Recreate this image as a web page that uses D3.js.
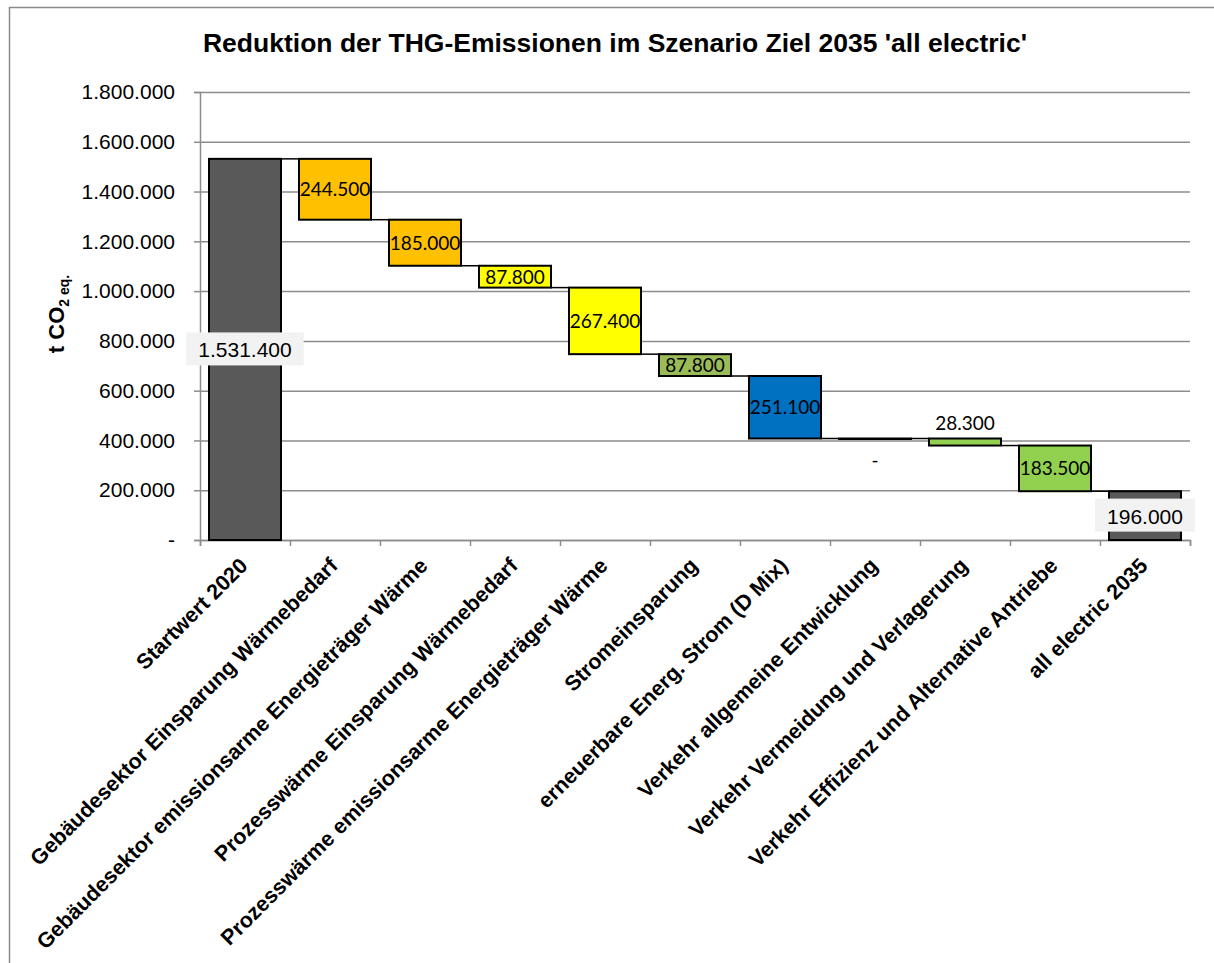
<!DOCTYPE html>
<html>
<head>
<meta charset="utf-8">
<script src="https://cdn.jsdelivr.net/npm/d3@7"></script>
<style>
  body { margin: 0; background: #fff; }
  svg { display: block; }
</style>
</head>
<body>
<svg id="chart" width="1214" height="963"></svg>
<script>
// data
const categories = [
  'Startwert 2020',
  'Gebäudesektor Einsparung Wärmebedarf',
  'Gebäudesektor emissionsarme Energieträger Wärme',
  'Prozesswärme Einsparung Wärmebedarf',
  'Prozesswärme emissionsarme Energieträger Wärme',
  'Stromeinsparung',
  'erneuerbare Energ. Strom (D Mix)',
  'Verkehr allgemeine Entwicklung',
  'Verkehr Vermeidung und Verlagerung',
  'Verkehr Effizienz und Alternative Antriebe',
  'all electric 2035'
];
// first and last are totals, the rest are reductions
const values = [1531400, 244500, 185000, 87800, 267400, 87800, 251100, 0, 28300, 183500, 196000];
const isTotal = [true, false, false, false, false, false, false, false, false, false, true];
const yTicks = [0, 200000, 400000, 600000, 800000, 1000000, 1200000, 1400000, 1600000, 1800000];
const barColors = ['#595959', '#FFC000', '#FFC000', '#FFFF00', '#FFFF00', '#9BBB59',
  '#0070C0', '#92D050', '#92D050', '#92D050', '#595959'];

const de = d3.formatLocale({ decimal: ',', thousands: '.', grouping: [3], currency: ['', ' €'] });
const fmt = v => v === 0 ? '-' : de.format(',d')(v);

const svg = d3.select('#chart'),
  margin = { top: 92, right: 24, bottom: 423, left: 200 },
  width = +svg.attr('width') - margin.left - margin.right,
  height = +svg.attr('height') - margin.top - margin.bottom;

// outer chart border (runs off the right and bottom edge like the reference)
svg.append('rect')
  .attr('x', 9.5).attr('y', 7.5)
  .attr('width', 1214).attr('height', 963)
  .attr('fill', 'none').attr('stroke', '#8a8a8a').attr('stroke-width', 1.5);

svg.append('text')
  .attr('x', 615).attr('y', 52)
  .attr('text-anchor', 'middle')
  .attr('font-family', 'Liberation Sans, Arial, sans-serif')
  .attr('font-weight', 'bold')
  .attr('font-size', 26.5)
  .text("Reduktion der THG-Emissionen im Szenario Ziel 2035 'all electric'");

const g = svg.append('g').attr('transform', 'translate(' + margin.left + ',' + margin.top + ')');

const x = d3.scaleBand()
  .domain(categories)
  .range([0, width])
  .paddingInner(0.2)
  .paddingOuter(0.1);

const xEdge = d3.scaleLinear()
  .domain([0, categories.length])
  .range([0, width]);

const y = d3.scaleLinear()
  .domain([0, 1800000])
  .range([height, 0]);

// running totals for the waterfall
let level = 0;
const bars = categories.map((c, i) => {
  let lo, hi;
  if (isTotal[i]) {
    lo = 0; hi = values[i]; level = values[i];
  } else {
    hi = level; lo = level - values[i]; level = lo;
  }
  return { cat: c, value: values[i], lo: lo, hi: hi, total: isTotal[i], color: barColors[i] };
});

// gridlines
g.append('g')
  .call(d3.axisLeft(y).tickValues(yTicks).tickSize(-width).tickFormat(''))
  .call(a => a.select('.domain').remove())
  .selectAll('line')
  .attr('stroke', '#8c8c8c').attr('stroke-width', 1.5);

// y axis
const yAxis = g.append('g')
  .call(d3.axisLeft(y).tickValues(yTicks).tickSize(6).tickPadding(19).tickFormat(fmt));
yAxis.select('.domain').attr('stroke', '#8c8c8c').attr('stroke-width', 1.5);
yAxis.selectAll('line').attr('stroke', '#8c8c8c').attr('stroke-width', 1.5);
yAxis.selectAll('text')
  .attr('font-family', 'Liberation Sans, Arial, sans-serif')
  .attr('font-size', 21)
  .attr('fill', '#000');

// x axis: ticks on the category boundaries
const xAxis = g.append('g')
  .attr('transform', 'translate(0,' + height + ')')
  .call(d3.axisBottom(xEdge).tickValues(d3.range(categories.length + 1)).tickSize(6).tickFormat(''));
xAxis.select('.domain').attr('stroke', '#8c8c8c').attr('stroke-width', 1.5);
xAxis.selectAll('line').attr('stroke', '#8c8c8c').attr('stroke-width', 1.5);

g.append('g')
  .selectAll('text')
  .data(categories)
  .join('text')
  .attr('transform', d => 'translate(' + (x(d) + x.bandwidth() / 2 + 4) + ',' + (height + 27) + ') rotate(-45)')
  .attr('text-anchor', 'end')
  .attr('font-family', 'Liberation Sans, Arial, sans-serif')
  .attr('font-weight', 'bold')
  .attr('font-size', 21.5)
  .text(d => d);

// y axis title
const yTitle = svg.append('text')
  .attr('transform', 'translate(64,314) rotate(-90)')
  .attr('text-anchor', 'middle')
  .attr('font-family', 'Liberation Sans, Arial, sans-serif')
  .attr('font-weight', 'bold')
  .attr('font-size', 22);
yTitle.append('tspan').text('t CO');
yTitle.append('tspan').attr('font-size', 14).attr('dy', 5).text('2 eq.');

// connectors between bars
g.append('g')
  .selectAll('line')
  .data(bars.slice(0, -1))
  .join('line')
  .attr('x1', (d, i) => x(d.cat) + x.bandwidth())
  .attr('x2', (d, i) => x(bars[i + 1].cat))
  .attr('y1', d => y(d.total ? d.hi : d.lo))
  .attr('y2', d => y(d.total ? d.hi : d.lo))
  .attr('stroke', '#000')
  .attr('stroke-width', 1.5);

// bars (a zero step still shows as a flat line)
g.append('g')
  .selectAll('rect')
  .data(bars)
  .join('rect')
  .attr('x', d => x(d.cat))
  .attr('y', d => y(d.hi))
  .attr('width', x.bandwidth())
  .attr('height', d => Math.max(0.5, y(d.lo) - y(d.hi)))
  .attr('fill', d => d.color)
  .attr('stroke', '#000')
  .attr('stroke-width', 2);

// labels for the reduction steps
const steps = bars.filter(d => !d.total);
g.append('g')
  .selectAll('text')
  .data(steps)
  .join('text')
  .attr('x', d => x(d.cat) + x.bandwidth() / 2)
  .attr('y', d => {
    const h = y(d.lo) - y(d.hi);
    if (d.value === 0) return y(d.lo) + 28;
    if (h < 16) return y(d.hi) - 9;
    return (y(d.lo) + y(d.hi)) / 2 + 7;
  })
  .attr('text-anchor', 'middle')
  .attr('font-family', 'Lato, sans-serif')
  .attr('font-size', 19)
  .attr('fill', '#000')
  .text(d => fmt(d.value));

// labels for the totals, on a light box
const totals = bars.filter(d => d.total);
const tl = g.append('g')
  .selectAll('g')
  .data(totals)
  .join('g')
  .attr('transform', d => 'translate(' + (x(d.cat) + x.bandwidth() / 2) + ',' + y(d.hi / 2) + ')');
tl.append('rect')
  .attr('fill', '#f2f2f2');
tl.append('text')
  .attr('text-anchor', 'middle')
  .attr('y', 8)
  .attr('font-family', 'Liberation Sans, Arial, sans-serif')
  .attr('font-size', 21)
  .attr('fill', '#000')
  .text(d => fmt(d.value));
tl.each(function () {
  const t = d3.select(this).select('text').node().getComputedTextLength();
  d3.select(this).select('rect')
    .attr('x', -t / 2 - 12).attr('y', -17)
    .attr('width', t + 24).attr('height', 33);
});
</script>
</body>
</html>
